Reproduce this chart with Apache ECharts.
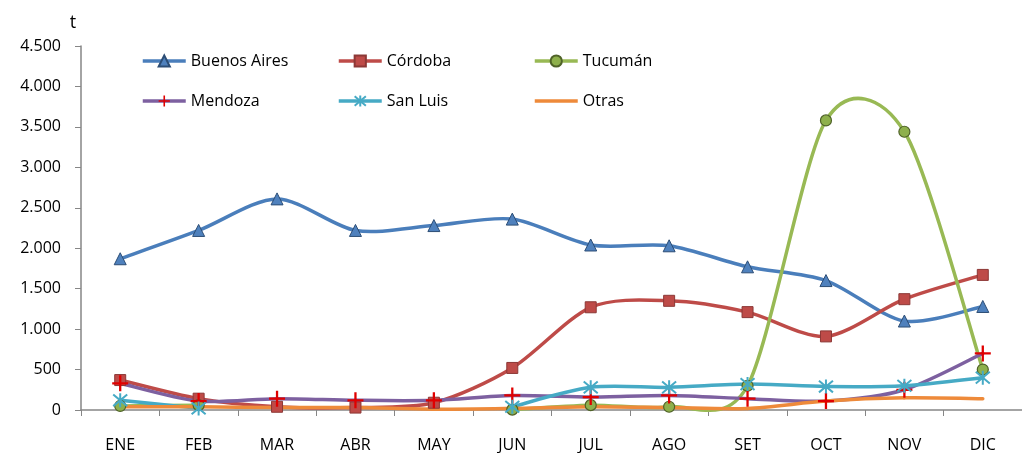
<!DOCTYPE html>
<html>
<head>
<meta charset="utf-8">
<script src="https://cdn.jsdelivr.net/npm/echarts@6/dist/echarts.min.js"></script>
<style>
  html, body { margin: 0; padding: 0; background: #fff; }
  #main { width: 1022px; height: 453px; }
</style>
</head>
<body>
<div id="main"></div>
<script>
var dom = document.getElementById('main')
var chart = echarts.init(dom)

var months = ['ENE', 'FEB', 'MAR', 'ABR', 'MAY', 'JUN', 'JUL', 'AGO', 'SET', 'OCT', 'NOV', 'DIC'];

var buenosAires = [1870, 2220, 2610, 2220, 2280, 2360, 2040, 2030, 1770, 1600, 1100, 1280];
var cordoba = [370, 140, 40, 30, 90, 520, 1270, 1350, 1210, 910, 1370, 1670];
var tucuman = [50, 60, null, null, null, 5, 60, 40, 300, 3580, 3440, 500];
var mendoza = [330, 110, 140, 120, 120, 180, 160, 180, 140, 110, 250, 700];
var sanLuis = [120, 20, null, null, null, 40, 280, 280, 320, 290, 300, 400];
var otras = [40, 40, 30, 30, 10, 20, 40, 30, 20, 110, 150, 140];

var font = '"Open Sans", sans-serif';
var plus = 'path://M6,0h2v6h6v2h-6v6h-2v-6h-6v-2h6z';
var star = 'path://M0,0L10,10M10,0L0,10M5,-1L5,11';

// excel-like smoothed curve, one bezier segment per data item
function curve(name, data, color) {
    var k = 1 / 7;
    return {
        type: 'custom',
        name: name + ' curve',
        data: data.map(function (v, i) { return [i, v]; }),
        z: 2,
        silent: true,
        renderItem: function (params, api) {
            var i = params.dataIndex;
            var n = data.length;
            if (i >= n - 1 || data[i] == null || data[i + 1] == null) return null;
            function p(j, fallback) {
                if (j < 0 || j > n - 1 || data[j] == null) j = fallback;
                return api.coord([j, data[j]]);
            }
            var p0 = p(i - 1, i), p1 = p(i, i), p2 = p(i + 1, i + 1), p3 = p(i + 2, i + 1);
            var c1 = [p1[0] + (p2[0] - p0[0]) * k, p1[1] + (p2[1] - p0[1]) * k];
            var c2 = [p2[0] - (p3[0] - p1[0]) * k, p2[1] - (p3[1] - p1[1]) * k];
            return {
                type: 'bezierCurve',
                shape: {
                    x1: p1[0], y1: p1[1],
                    cpx1: c1[0], cpy1: c1[1],
                    cpx2: c2[0], cpy2: c2[1],
                    x2: p2[0], y2: p2[1]
                },
                style: { stroke: color, lineWidth: 3.5, fill: null, lineCap: 'round' }
            };
        }
    };
}

function marks(name, data, color, extra) {
    var s = {
        name: name,
        type: 'line',
        data: data,
        z: 3,
        lineStyle: { width: 0, color: color },
        itemStyle: { color: color },
        symbol: 'none'
    };
    return Object.assign(s, extra || {});
}

var legendBase = {
    orient: 'vertical',
    top: 53,
    padding: 0,
    itemGap: 24,
    itemWidth: 43,
    itemHeight: 14,
    textStyle: { fontFamily: font, fontSize: 16, color: '#000' }
};

function legendItem(name, color, hideSymbol) {
    var d = { name: name, lineStyle: { width: 3.5, color: color, opacity: 1 } };
    if (hideSymbol) d.itemStyle = { opacity: 0 };
    return d;
}

var options = {
    animation: false,
    textStyle: { fontFamily: font },
    grid: { left: 81, top: 46, bottom: 41, width: 950 },
    legend: [
        Object.assign({ left: 141, data: [legendItem('Buenos Aires', '#4A7EBB'), legendItem('Mendoza', '#7D60A0')] }, legendBase),
        Object.assign({ left: 337, data: [legendItem('Córdoba', '#BE4B48'), legendItem('San Luis', '#46AAC5')] }, legendBase),
        Object.assign({ left: 533, data: [legendItem('Tucumán', '#98B954'), legendItem('Otras', '#EE8A3A', true)] }, legendBase)
    ],
    xAxis: {
        type: 'category',
        data: months,
        boundaryGap: true,
        axisLine: { lineStyle: { color: '#868686', width: 1.5 } },
        axisTick: { show: true, length: 6, lineStyle: { color: '#868686' } },
        axisLabel: { color: '#000', fontSize: 16, margin: 27, fontFamily: font }
    },
    yAxis: {
        type: 'value',
        min: 0,
        max: 4500,
        interval: 500,
        name: 't',
        nameLocation: 'end',
        nameGap: 14,
        nameTextStyle: { color: '#000', fontSize: 18, fontFamily: font, padding: [0, 16, 0, 0] },
        splitLine: { show: false },
        axisLine: { show: true, lineStyle: { color: '#868686', width: 1.5 } },
        axisTick: { show: true, length: 6, lineStyle: { color: '#868686' } },
        axisLabel: {
            color: '#000',
            fontSize: 16,
            margin: 20,
            fontFamily: font,
            formatter: function (v) {
                return String(v).replace(/\B(?=(\d{3})+(?!\d))/g, '.');
            }
        }
    },
    series: [
        curve('Buenos Aires', buenosAires, '#4A7EBB'),
        marks('Buenos Aires', buenosAires, '#4A7EBB', {
            symbol: 'triangle', symbolSize: 12,
            itemStyle: { color: '#4F81BD', borderColor: '#2C4D75', borderWidth: 1 }
        }),
        curve('Córdoba', cordoba, '#BE4B48'),
        marks('Córdoba', cordoba, '#BE4B48', {
            symbol: 'rect', symbolSize: 11,
            itemStyle: { color: '#BE4B48', borderColor: '#8C3836', borderWidth: 1 }
        }),
        curve('Tucumán', tucuman, '#98B954'),
        marks('Tucumán', tucuman, '#98B954', {
            symbol: 'circle', symbolSize: 11,
            itemStyle: { color: '#8EB04C', borderColor: '#4F6228', borderWidth: 1.2 }
        }),
        curve('Mendoza', mendoza, '#7D60A0'),
        marks('Mendoza', mendoza, '#7D60A0', {
            symbol: plus, symbolSize: 16,
            itemStyle: { color: '#E00000' }
        }),
        curve('San Luis', sanLuis, '#46AAC5'),
        marks('San Luis', sanLuis, '#46AAC5', {
            symbol: star, symbolSize: 14,
            itemStyle: { color: '#46AAC5', borderColor: '#46AAC5', borderWidth: 2 }
        }),
        curve('Otras', otras, '#EE8A3A'),
        marks('Otras', otras, '#EE8A3A', {})
    ]
}

chart.setOption(options)
</script>
</body>
</html>
